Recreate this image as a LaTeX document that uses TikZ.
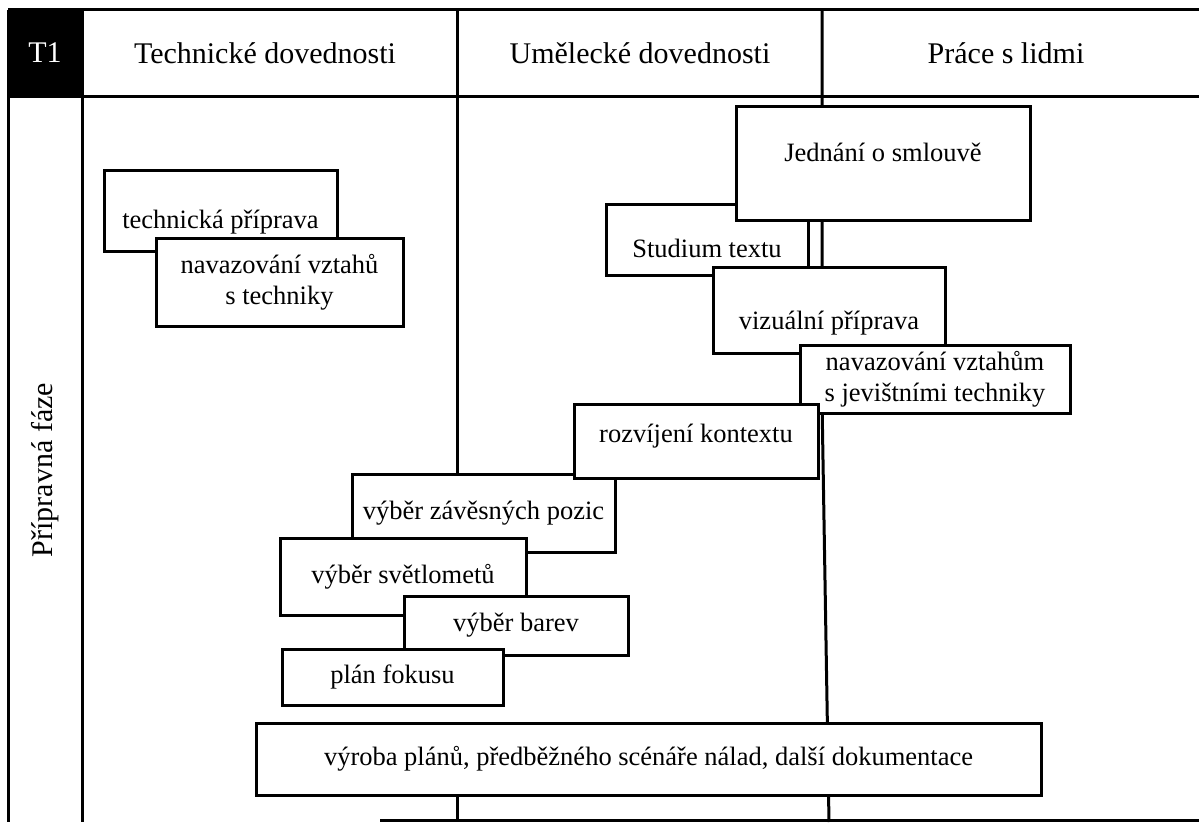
\documentclass[tikz,border=0pt]{standalone}
\usepackage{fontspec}
\setmainfont{Liberation Serif}

\begin{document}
\begin{tikzpicture}[x=1pt, y=-1pt,
  rule/.style={line width=3pt},
  head/.style={font=\fontsize{30}{36}\selectfont},
  task/.style={draw, line width=3pt, fill=white, inner sep=0pt, outer sep=0pt,
               align=center, font=\fontsize{26.5}{31}\selectfont},
  boxsize/.style 2 args={minimum width=#1pt, minimum height=#2pt},
  textpos/.style 2 args={text height=#1pt, text depth=#2pt}
]
\useasboundingbox (0,0) rectangle (1199,826);

% Frame and columns
\fill (8,10) rectangle (82,97);
\draw[rule] (8,10) -- (1199,10);
\draw[rule] (8,97) -- (1199,97);
\draw[rule] (8,10) -- (8,822);
\draw[rule] (82,10) -- (82,822);
\draw[rule] (457,10) -- (457,480);
\draw[rule] (457,790) -- (457,822);
\draw[rule] (822,10) -- (822,400) -- (829,822);
\draw[rule] (380,820) -- (1199,820);

% Header
\node[head, text=white] (t1) at (45,53) {T1};
\node[head] (tech) at (265,53) {Technické dovednosti};
\node[head] (art) at (640,53) {Umělecké dovednosti};
\node[head] (people) at (1006,53) {Práce s lidmi};
\node[head, rotate=90] (phase) at (45,470) {Přípravná fáze};

% Technical column
\node[task, boxsize={233}{81}, textpos={40}{6}] (techprep) at (220.5,211.5) {technická příprava};
\node[task, boxsize={247}{87}] (techrel) at (279.5,282.5) {navazování vztahů\\s techniky};

% Artistic and people columns
\node[task, boxsize={202}{71}, textpos={35}{0}] (study) at (707,240.5) {Studium textu};
\node[task, boxsize={294}{114}, textpos={10}{14}] (contract) at (883,164) {Jednání o smlouvě};
\node[task, boxsize={232}{85}, textpos={44}{6}] (visual) at (829,310.5) {vizuální příprava};
\node[task, boxsize={270}{68}] (stagerel) at (935,379) {navazování vztahům\\s jevištními techniky};
\node[task, boxsize={263}{78}] (rigging) at (483.5,513) {výběr závěsných pozic};
\node[task, boxsize={244}{74}, textpos={8}{6}] (context) at (696,441) {rozvíjení kontextu};

% Lighting choices
\node[task, boxsize={246}{77}] (fixtures) at (403,576.5) {výběr světlometů};
\node[task, boxsize={224}{59}] (colours) at (516,625.5) {výběr barev};
\node[task, boxsize={221}{56}] (focus) at (392.5,677) {plán fokusu};

% Documentation
\node[task, boxsize={785}{72}] (docs) at (648.5,759) {výroba plánů, předběžného scénáře nálad, další dokumentace};
\end{tikzpicture}
\end{document}
